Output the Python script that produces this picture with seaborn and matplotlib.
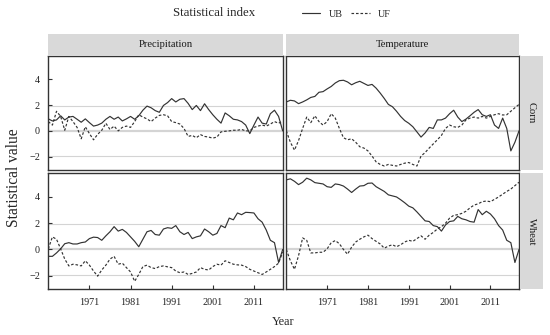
import numpy as np
import pandas as pd
import matplotlib
matplotlib.use("Agg")
import matplotlib.pyplot as plt
from matplotlib.lines import Line2D
import seaborn as sns

# Sequential Mann-Kendall statistics, 1961-2018
years = np.arange(1961, 2019)

corn_prec_ub = [0.93, 0.77, 0.85, 1.17, 0.85, 1.07, 1.12, 0.9, 0.67, 0.93,
                0.64, 0.37, 0.45, 0.6, 0.9, 1.12, 0.9, 1.07, 0.77, 0.93,
                1.12, 0.9, 1.17, 1.6, 1.92, 1.79, 1.57, 1.44, 1.97, 2.19,
                2.5, 2.24, 2.45, 2.5, 2.13, 1.65, 1.97, 1.57, 2.1, 1.65,
                1.25, 0.9, 0.6, 1.39, 1.17, 0.9, 0.85, 0.72, 0.45, -0.21,
                0.45, 1.07, 0.6, 0.53, 1.33, 1.6, 1.12, 0.0]
corn_prec_uf = [0.72, 0.45, 1.52, 1.12, 0.05, 1.12, 0.72, 0.27, -0.61, 0.32,
                -0.21, -0.69, -0.27, 0.05, 0.59, 0.11, 0.37, 0.0, 0.27, 0.37,
                0.27, 0.72, 1.25, 1.07, 0.93, 0.72, 0.99, 1.2, 1.25, 1.17,
                0.72, 0.64, 0.53, 0.19, -0.43, -0.35, -0.53, -0.29, -0.43, -0.48,
                -0.56, -0.48, -0.08, -0.03, 0.0, 0.05, 0.05, 0.11, 0.0, 0.0,
                0.27, 0.37, 0.45, 0.37, 0.53, 0.72, 0.59, 0.77]
corn_temp_ub = [2.24, 2.37, 2.32, 2.11, 2.24, 2.4, 2.59, 2.67, 2.99, 3.04,
                3.25, 3.44, 3.71, 3.89, 3.92, 3.79, 3.57, 3.73, 3.84, 3.68,
                3.52, 3.6, 3.31, 2.93, 2.51, 2.05, 1.87, 1.52, 1.12, 0.8,
                0.59, 0.32, -0.08, -0.48, -0.16, 0.27, 0.19, 0.85, 0.85, 0.99,
                1.33, 1.6, 1.07, 0.72, 0.91, 1.17, 1.44, 1.65, 1.25, 1.12,
                1.25, 0.45, 0.19, 0.99, 0.19, -1.55, -0.88, 0.0]
corn_temp_uf = [0.0, -0.88, -1.49, -0.75, 0.19, 1.07, 0.64, 1.17, 0.72, 0.45,
                0.72, 1.33, 0.99, 0.19, -0.53, -0.69, -0.61, -0.88, -1.23, -1.33,
                -1.55, -1.95, -2.4, -2.6, -2.72, -2.6, -2.67, -2.72, -2.6, -2.5,
                -2.45, -2.6, -2.72, -1.95, -1.68, -1.33, -1.01, -0.69, -0.35, 0.19,
                0.45, 0.32, 0.27, 0.45, 0.85, 0.99, 1.07, 0.99, 1.12, 0.99,
                1.12, 1.25, 1.33, 1.23, 1.25, 1.52, 1.79, 2.05]
wheat_prec_ub = [-0.52, -0.52, -0.26, 0.05, 0.44, 0.52, 0.42, 0.42, 0.52, 0.57,
                 0.83, 0.94, 0.91, 0.7, 1.04, 1.35, 1.74, 1.4, 1.53, 1.3,
                 0.96, 0.62, 0.21, 0.78, 1.35, 1.45, 1.14, 1.09, 1.56, 1.66,
                 1.61, 1.82, 1.35, 1.14, 1.3, 0.83, 0.96, 1.04, 1.56, 1.35,
                 1.09, 1.22, 1.82, 1.66, 2.39, 2.26, 2.78, 2.65, 2.83, 2.81,
                 2.78, 2.34, 2.08, 1.48, 0.7, 0.52, -0.99, 0.0]
wheat_prec_uf = [0.05, 0.96, 0.78, 0.05, -0.73, -1.25, -1.12, -1.17, -1.25, -0.86,
                 -1.19, -1.64, -2.03, -1.56, -1.19, -0.73, -0.52, -1.12, -1.04, -1.38,
                 -1.71, -2.42, -1.9, -1.3, -1.19, -1.38, -1.45, -1.3, -1.25, -1.32,
                 -1.38, -1.64, -1.77, -1.71, -1.9, -1.82, -1.71, -1.38, -1.51, -1.56,
                 -1.3, -1.12, -1.19, -0.86, -0.99, -1.12, -1.17, -1.19, -1.3, -1.51,
                 -1.64, -1.77, -1.9, -1.71, -1.51, -1.3, -1.04, -0.2]
wheat_temp_ub = [5.3, 5.38, 5.19, 4.94, 5.12, 5.43, 5.3, 5.09, 5.04, 4.99,
                 4.78, 4.73, 4.99, 4.94, 4.83, 4.6, 4.34, 4.6, 4.83, 4.86,
                 5.04, 5.06, 4.78, 4.6, 4.42, 4.16, 4.08, 4.0, 3.79, 3.56,
                 3.3, 3.17, 2.86, 2.52, 2.18, 2.13, 1.82, 1.74, 1.4, 1.87,
                 2.13, 2.18, 2.52, 2.34, 2.26, 2.13, 2.08, 3.04, 2.65, 2.91,
                 2.7, 2.34, 1.82, 1.48, 0.7, 0.52, -0.99, 0.0]
wheat_temp_uf = [0.0, -0.86, -1.51, -0.47, 0.88, 0.7, -0.26, -0.26, -0.21, -0.21,
                 0.05, 0.52, 0.68, 0.44, 0.0, -0.36, 0.18, 0.57, 0.78, 0.96,
                 1.09, 0.83, 0.62, 0.42, 0.1, 0.26, 0.36, 0.21, 0.36, 0.57,
                 0.7, 0.62, 0.83, 1.04, 0.78, 1.09, 1.3, 1.56, 1.74, 2.0,
                 2.39, 2.6, 2.65, 2.75, 2.91, 3.17, 3.38, 3.48, 3.64, 3.69,
                 3.64, 3.82, 4.0, 4.21, 4.42, 4.6, 4.86, 5.12]

crops = ["Corn", "Wheat"]
variables = ["Precipitation", "Temperature"]
series = {
    ("Corn", "Precipitation"): (corn_prec_ub, corn_prec_uf),
    ("Corn", "Temperature"): (corn_temp_ub, corn_temp_uf),
    ("Wheat", "Precipitation"): (wheat_prec_ub, wheat_prec_uf),
    ("Wheat", "Temperature"): (wheat_temp_ub, wheat_temp_uf),
}

rows = []
for (crop, var), (ub, uf) in series.items():
    for name, vals in (("UB", ub), ("UF", uf)):
        rows.append(pd.DataFrame({"year": years, "value": vals, "index": name,
                                  "crop": crop, "variable": var}))
df = pd.concat(rows, ignore_index=True)

sns.set_theme(style="white")
plt.rcParams["font.family"] = ["Liberation Serif", "DejaVu Serif"]

W, H = 550, 335
fig = plt.figure(figsize=(W / 100, H / 100), dpi=100)

def box(x0, y0, x1, y1):
    return [x0 / W, 1 - y1 / H, (x1 - x0) / W, (y1 - y0) / H]

col_x = [(48.3, 282.7), (286.3, 519.0)]
row_y = [(56.0, 170.0), (173.3, 289.3)]
dark = "#333333"
line_dashes = {"UB": "", "UF": (2.2, 1.6)}

for r, crop in enumerate(crops):
    for c, var in enumerate(variables):
        ax = fig.add_axes(box(col_x[c][0], row_y[r][0], col_x[c][1], row_y[r][1]))
        ax.set_facecolor("white")
        for yv, lw in ((-1.96, 0.8), (0, 1.6), (1.96, 0.8)):
            ax.axhline(yv, color="#d4d4d4", lw=lw, zorder=0)
        sub = df[(df["crop"] == crop) & (df["variable"] == var)]
        sns.lineplot(data=sub, x="year", y="value", style="index",
                     dashes=line_dashes, color=dark, lw=0.85, legend=False, ax=ax)
        ax.set_xlim(1961, 2018)
        ax.set_ylim(-3.03, 5.8)
        ax.set_xticks([1971, 1981, 1991, 2001, 2011])
        ax.set_yticks([-2, 0, 2, 4])
        ax.set_xlabel("")
        ax.set_ylabel("")
        for s in ax.spines.values():
            s.set_color(dark)
            s.set_linewidth(1.0)
        ax.tick_params(direction="in", length=3, width=0.8, color=dark,
                       labelsize=7.3, labelcolor="#222222", pad=6,
                       bottom=(r == 1), left=(c == 0),
                       labelbottom=(r == 1), labelleft=(c == 0))

# strips
for c, var in enumerate(variables):
    sax = fig.add_axes(box(col_x[c][0], 33.5, col_x[c][1], 55.5))
    sax.set_facecolor("#d9d9d9")
    sax.set_xticks([])
    sax.set_yticks([])
    for s in sax.spines.values():
        s.set_visible(False)
    sax.text(0.5, 0.5, var, ha="center", va="center", fontsize=7.6, color="#1a1a1a")
for r, crop in enumerate(crops):
    sax = fig.add_axes(box(519.8, row_y[r][0], 543.0, row_y[r][1]))
    sax.set_facecolor("#d9d9d9")
    sax.set_xticks([])
    sax.set_yticks([])
    for s in sax.spines.values():
        s.set_visible(False)
    sax.text(0.5, 0.5, crop, ha="center", va="center", rotation=-90,
             fontsize=7.6, color="#1a1a1a")

# axis titles
fig.text(283 / W, 1 - 322 / H, "Year", ha="center", va="center", fontsize=8.8)
fig.text(14 / W, 1 - 178 / H, "Statistical value", ha="center", va="center",
         rotation=90, fontsize=11.2)

# legend
fig.text(173 / W, 1 - 13 / H, "Statistical index", ha="left", va="center", fontsize=9.3)
handles = [Line2D([], [], color=dark, lw=0.85),
           Line2D([], [], color=dark, lw=0.85, dashes=(2.2, 1.6))]
fig.legend(handles, ["UB", "UF"], loc="center left", ncol=2, frameon=False,
           bbox_to_anchor=(302 / W, 1 - 14 / H), fontsize=7.3, handlelength=1.8,
           handletextpad=0.8, columnspacing=0.9, borderpad=0, borderaxespad=0)

fig.savefig("out.png", dpi=100)
plt.close(fig)
